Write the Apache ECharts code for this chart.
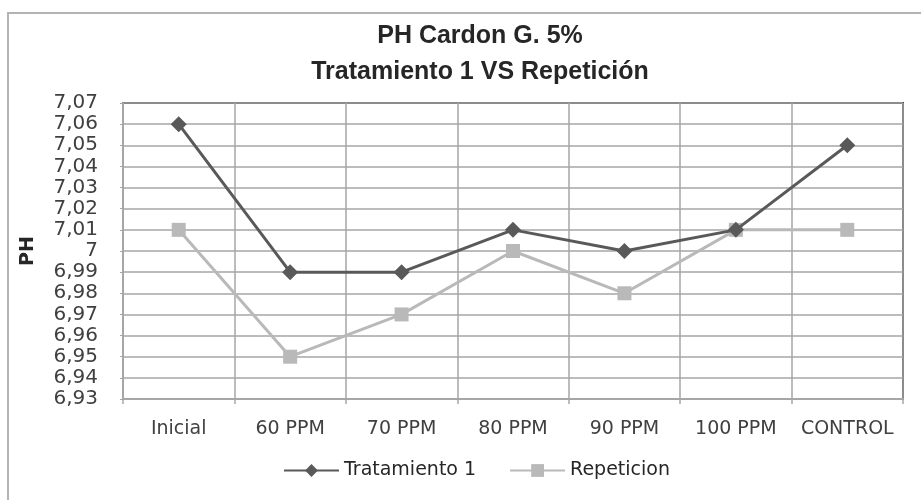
<!DOCTYPE html>
<html>
<head>
<meta charset="utf-8">
<script src="https://cdn.jsdelivr.net/npm/echarts@6/dist/echarts.min.js"></script>
<style>
html,body{margin:0;padding:0;background:#fff;}
#chart{width:921px;height:500px;}
</style>
</head>
<body>
<div id="chart"></div>
<script>
var categories = ['Inicial', '60 PPM', '70 PPM', '80 PPM', '90 PPM', '100 PPM', 'CONTROL'];
var tratamiento1 = [7.06, 6.99, 6.99, 7.01, 7.00, 7.01, 7.05];
var repeticion = [7.01, 6.95, 6.97, 7.00, 6.98, 7.01, 7.01];
var seriesNames = ['Tratamiento 1', 'Repeticion'];
var titleLines = ['PH Cardon G. 5%', 'Tratamiento 1 VS Repetición'];
var yAxisName = 'PH';

var chart = echarts.init(document.getElementById('chart'), null, {renderer: 'canvas'});
var FONT = 'DejaVu Sans';
var option = {
  animation: false,
  backgroundColor: '#ffffff',
  graphic: [{
    type: 'rect', silent: true, z: -10,
    shape: {x: 8, y: 13, width: 930, height: 500},
    style: {fill: 'none', stroke: '#b3b3b3', lineWidth: 2}
  }],
  title: {
    text: titleLines.join('\n'),
    left: 480, top: 18, textAlign: 'center', padding: 0,
    textStyle: {fontFamily: '"Liberation Sans", Arial, sans-serif', fontWeight: 'bold', fontSize: 25, lineHeight: 36, color: '#262626'}
  },
  legend: {
    data: seriesNames,
    left: 278, top: 456,
    itemWidth: 55, itemHeight: 16, itemGap: 33,
    textStyle: {fontFamily: FONT, fontSize: 19, color: '#262626'}
  },
  grid: {
    left: 123, right: 18, top: 103, bottom: 101,
    show: true, borderColor: '#404040', borderWidth: 2, backgroundColor: 'transparent'
  },
  xAxis: {
    type: 'category',
    data: categories,
    boundaryGap: true,
    axisLine: {show: true, lineStyle: {color: '#a6a6a6', width: 2}},
    axisTick: {show: true, length: 5, lineStyle: {color: '#a6a6a6', width: 1.5}},
    splitLine: {show: true, lineStyle: {color: '#a6a6a6', width: 1.5}},
    axisLabel: {fontFamily: FONT, fontSize: 19, color: '#404040', margin: 21, interval: 0}
  },
  yAxis: {
    type: 'value',
    min: 6.93, max: 7.07, interval: 0.01,
    name: yAxisName,
    nameLocation: 'middle', nameGap: 85, nameRotate: 90,
    nameTextStyle: {fontFamily: FONT, fontWeight: 'bold', fontSize: 19, color: '#262626'},
    axisLine: {show: true, lineStyle: {color: '#a6a6a6', width: 2}},
    axisTick: {show: true, length: 3, lineStyle: {color: '#a6a6a6'}},
    splitLine: {show: true, lineStyle: {color: '#a6a6a6', width: 1.5}},
    axisLabel: {
      fontFamily: FONT, fontSize: 20, color: '#404040', margin: 25,
      formatter: function (v) {
        return String(parseFloat(Number(v).toFixed(2))).replace('.', ',');
      }
    }
  },
  series: [
    {
      name: seriesNames[0], type: 'line', data: tratamiento1,
      symbol: 'diamond', symbolSize: 16, z: 3,
      itemStyle: {color: '#595959'},
      lineStyle: {color: '#595959', width: 3}
    },
    {
      name: seriesNames[1], type: 'line', data: repeticion,
      symbol: 'rect', symbolSize: 14, z: 2,
      itemStyle: {color: '#b9b9b9'},
      lineStyle: {color: '#b9b9b9', width: 3}
    }
  ]
};
chart.setOption(option);
</script>
</body>
</html>
